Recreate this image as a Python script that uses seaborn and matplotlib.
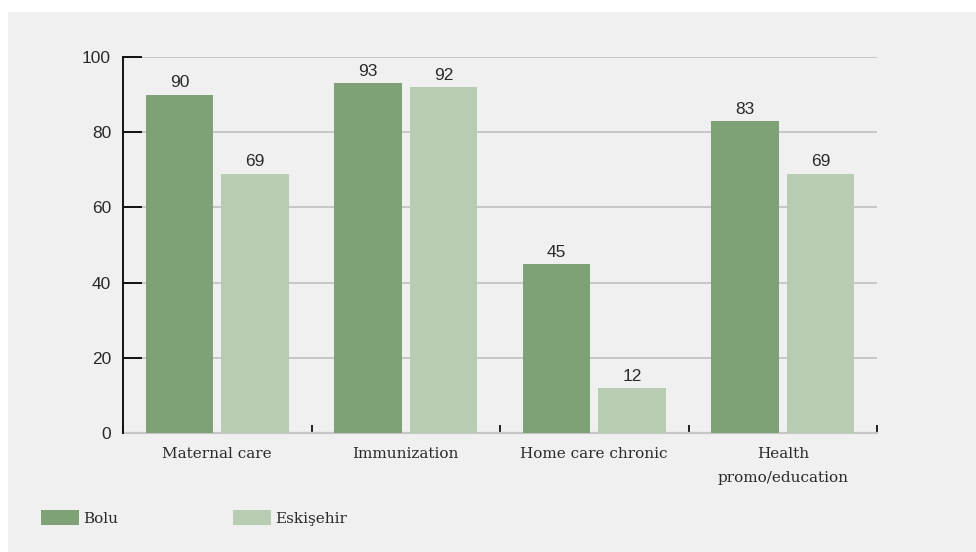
import matplotlib
matplotlib.use("Agg")
import matplotlib.pyplot as plt
from matplotlib.patches import Rectangle
from matplotlib.ticker import FixedLocator
import pandas as pd
import seaborn as sns

# Share of facilities offering each service, by province (%)
categories = ["Maternal care", "Immunization", "Home care chronic", "Health\npromo/education"]
bolu = [90, 93, 45, 83]
eskisehir = [69, 92, 12, 69]
series_names = ["Bolu", "Eskişehir"]
colors = ["#7fa176", "#b8ccb4"]
y_ticks = [0, 20, 40, 60, 80, 100]

df = pd.DataFrame({
    "category": categories * 2,
    "value": bolu + eskisehir,
    "province": [series_names[0]] * len(categories) + [series_names[1]] * len(categories),
})

sns.set_theme(style="white")
plt.rcParams["font.family"] = ["DejaVu Serif"]

BG = "#f0f0f0"
GRID = "#c6c6c6"
TEXT = "#2a2a2a"

fig = plt.figure(figsize=(9.76, 5.52), dpi=100, facecolor="white")
# grey panel behind the chart
fig.patches.append(Rectangle((8 / 976, 0), 1, 1 - 12 / 552, transform=fig.transFigure,
                             facecolor=BG, edgecolor="none", zorder=-10))

ax = fig.add_axes([123 / 976, 1 - 433 / 552, (877 - 123) / 976, (433 - 57) / 552])
ax.set_facecolor("none")

sns.barplot(data=df, x="category", y="value", hue="province", order=categories,
            hue_order=series_names, palette=colors, width=0.8, gap=0.1,
            saturation=1, linewidth=0, edgecolor="none", ax=ax, legend=True, zorder=3)

ax.set_xlim(-0.5, len(categories) - 0.5)
ax.set_ylim(0, 100)
ax.set_yticks(y_ticks)
ax.set_xlabel("")
ax.set_ylabel("")

# value labels above each bar
for cont in ax.containers:
    ax.bar_label(cont, fmt="%d", padding=3, fontsize=12.5, color=TEXT,
                 family=["Liberation Sans", "DejaVu Sans"])

# grid and spines
ax.set_axisbelow(True)
ax.yaxis.grid(True, color=GRID, linewidth=1.4)
ax.xaxis.grid(False)
for s in ["top", "right"]:
    ax.spines[s].set_visible(False)
ax.spines["left"].set_color("#111111")
ax.spines["left"].set_linewidth(1.4)
ax.spines["bottom"].set_color(GRID)
ax.spines["bottom"].set_linewidth(1.6)
ax.spines["bottom"].set_zorder(1)

ax.tick_params(axis="y", which="major", left=True, direction="in", length=13.7, width=1.4,
               color="#111111", pad=8.6, labelsize=12.5, labelcolor=TEXT, zorder=4)
for lab in ax.get_yticklabels():
    lab.set_family(["Liberation Sans", "DejaVu Sans"])

ax.tick_params(axis="x", which="major", bottom=False, length=0, pad=10, labelsize=11,
               labelcolor=TEXT)
for lab in ax.get_xticklabels():
    lab.set_linespacing(1.9)
# small separators between category groups
ax.xaxis.set_minor_locator(FixedLocator([i + 0.5 for i in range(-1, len(categories))]))
ax.tick_params(axis="x", which="minor", bottom=True, direction="in", length=5.8, width=1.3,
               color="#111111")

# legend along the bottom of the panel
handles, labels = ax.get_legend_handles_labels()
ax.legend_.remove()
fig.legend(handles, labels, loc="center left", bbox_to_anchor=(41 / 976, 1 - 518 / 552),
           ncol=2, frameon=False, fontsize=11, handlelength=2.48, handleheight=1.17,
           handletextpad=0.27, columnspacing=7.55, borderaxespad=0, borderpad=0,
           labelcolor=TEXT)

fig.savefig("out.png", dpi=100, facecolor=fig.get_facecolor())
